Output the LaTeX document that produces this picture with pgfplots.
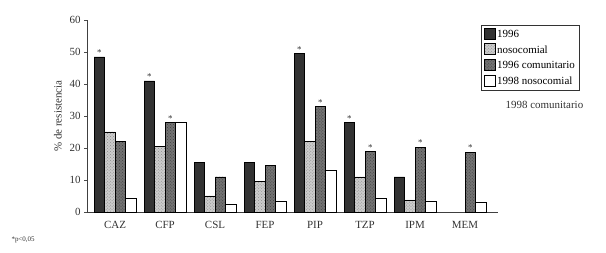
\documentclass[border=0pt]{standalone}
\usepackage{fontspec}
\setmainfont{Liberation Serif}
\usepackage{pgfplots}
\pgfplotsset{compat=1.18}
\usetikzlibrary{patterns}
\begin{document}
\begin{tikzpicture}
\useasboundingbox (0,0) rectangle (606bp,253bp);
\begin{axis}[
  at={(87bp,41bp)}, anchor=south west,
  scale only axis, width=411bp, height=192bp,
  xmin=-0.56, xmax=7.66, ymin=0, ymax=60,
  axis lines=left, axis line style={-, black!75, line width=0.7pt},
  ybar=0pt, bar width=0.21,
  xtick={0,...,7},
  xticklabels={CAZ,CFP,CSL,FEP,PIP,TZP,IPM,MEM},
  xtick style={draw=none},
  ytick={0,10,...,60},
  tick align=outside, major tick length=3bp,
  ytick style={black!70},
  /pgf/number format/assume math mode=true,
  tick label style={font=\fontsize{11}{12}\selectfont, black!80},
  xticklabel style={yshift=-3bp},
  ylabel={\% de resistencia},
  ylabel style={font=\fontsize{11}{12}\selectfont, black!80, yshift=1bp},
  legend style={at={(0.959,0.974)}, anchor=north west, draw=black!80,
    font=\fontsize{11}{12}\selectfont, inner sep=2.5bp, row sep=2.5bp,
    legend cell align=left},
  legend image code/.code={\draw[#1, draw=black] (0bp,-4.5bp) rectangle (11bp,6.5bp);},
  nodes near coords style={font=\fontsize{9}{9}\selectfont, inner sep=1pt, black!80},
  clip=false,
]
\addplot[fill=black!80, draw=black, nodes near coords, point meta=explicit symbolic]
  coordinates {(0,48.5)[*] (1,41)[*] (2,15.5)[\relax] (3,15.5)[\relax] (4,49.5)[*] (5,28)[*] (6,11)[\relax]};
\addplot[fill=black!20, draw=black, postaction={pattern=crosshatch dots, pattern color=black!45}]
  coordinates {(0,25) (1,20.5) (2,5) (3,9.5) (4,22) (5,11) (6,3.8)};
\addplot[fill=black!55, draw=black, postaction={pattern=crosshatch dots, pattern color=black!75}, nodes near coords, point meta=explicit symbolic]
  coordinates {(0,22)[\relax] (1,28)[*] (2,11)[\relax] (3,14.5)[\relax] (4,33)[*] (5,19)[*] (6,20.3)[*] (7,18.7)[*]};
\addplot[fill=white, draw=black]
  coordinates {(0,4.2) (1,28) (2,2.3) (3,3.3) (4,13) (5,4.3) (6,3.3) (7,3)};
\legend{1996,nosocomial,1996 comunitario,1998 nosocomial}
\node[anchor=west, font=\fontsize{11}{12}\selectfont, black!80] at (rel axis cs:1.010,0.560) {1998 comunitario};
\end{axis}
\node[anchor=west, font=\fontsize{7}{8}\selectfont, black!80] at (8bp,13bp) {*p<0,05};
\end{tikzpicture}
\end{document}
